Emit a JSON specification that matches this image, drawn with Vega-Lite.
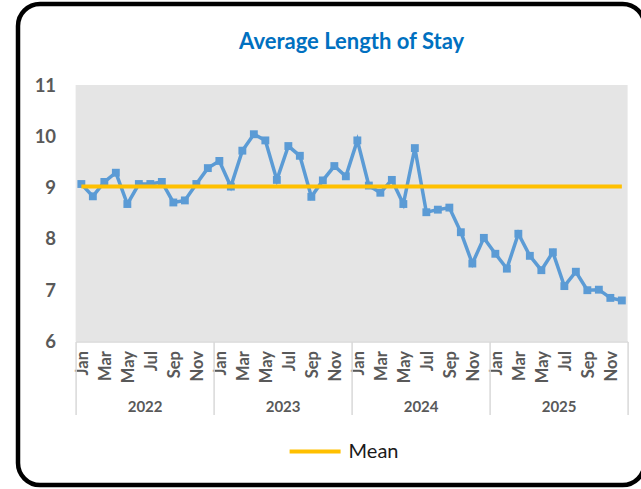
{
  "$schema": "https://vega.github.io/schema/vega-lite/v6.json",
  "autosize": {"type": "none"},
  "width": 552,
  "height": 256.5,
  "padding": {"left": 75.6, "top": 85, "right": 13.4, "bottom": 147.5},
  "background": "white",
  "title": {
    "text": "Average Length of Stay",
    "font": "Lato",
    "fontSize": 22,
    "fontWeight": "bold",
    "color": "#0070C0",
    "anchor": "middle",
    "offset": -52
  },
  "data": {
    "values": [
      {"idx": 0, "month": "Jan", "year": 2022, "los": 9.07, "mean": 9.02},
      {"idx": 1, "month": "Feb", "year": 2022, "los": 8.83, "mean": 9.02},
      {"idx": 2, "month": "Mar", "year": 2022, "los": 9.11, "mean": 9.02},
      {"idx": 3, "month": "Apr", "year": 2022, "los": 9.29, "mean": 9.02},
      {"idx": 4, "month": "May", "year": 2022, "los": 8.68, "mean": 9.02},
      {"idx": 5, "month": "Jun", "year": 2022, "los": 9.07, "mean": 9.02},
      {"idx": 6, "month": "Jul", "year": 2022, "los": 9.07, "mean": 9.02},
      {"idx": 7, "month": "Aug", "year": 2022, "los": 9.11, "mean": 9.02},
      {"idx": 8, "month": "Sep", "year": 2022, "los": 8.71, "mean": 9.02},
      {"idx": 9, "month": "Oct", "year": 2022, "los": 8.75, "mean": 9.02},
      {"idx": 10, "month": "Nov", "year": 2022, "los": 9.07, "mean": 9.02},
      {"idx": 11, "month": "Dec", "year": 2022, "los": 9.38, "mean": 9.02},
      {"idx": 12, "month": "Jan", "year": 2023, "los": 9.52, "mean": 9.02},
      {"idx": 13, "month": "Feb", "year": 2023, "los": 9.02, "mean": 9.02},
      {"idx": 14, "month": "Mar", "year": 2023, "los": 9.72, "mean": 9.02},
      {"idx": 15, "month": "Apr", "year": 2023, "los": 10.04, "mean": 9.02},
      {"idx": 16, "month": "May", "year": 2023, "los": 9.92, "mean": 9.02},
      {"idx": 17, "month": "Jun", "year": 2023, "los": 9.15, "mean": 9.02},
      {"idx": 18, "month": "Jul", "year": 2023, "los": 9.81, "mean": 9.02},
      {"idx": 19, "month": "Aug", "year": 2023, "los": 9.62, "mean": 9.02},
      {"idx": 20, "month": "Sep", "year": 2023, "los": 8.82, "mean": 9.02},
      {"idx": 21, "month": "Oct", "year": 2023, "los": 9.14, "mean": 9.02},
      {"idx": 22, "month": "Nov", "year": 2023, "los": 9.42, "mean": 9.02},
      {"idx": 23, "month": "Dec", "year": 2023, "los": 9.22, "mean": 9.02},
      {"idx": 24, "month": "Jan", "year": 2024, "los": 9.92, "mean": 9.02},
      {"idx": 25, "month": "Feb", "year": 2024, "los": 9.04, "mean": 9.02},
      {"idx": 26, "month": "Mar", "year": 2024, "los": 8.9, "mean": 9.02},
      {"idx": 27, "month": "Apr", "year": 2024, "los": 9.15, "mean": 9.02},
      {"idx": 28, "month": "May", "year": 2024, "los": 8.68, "mean": 9.02},
      {"idx": 29, "month": "Jun", "year": 2024, "los": 9.77, "mean": 9.02},
      {"idx": 30, "month": "Jul", "year": 2024, "los": 8.52, "mean": 9.02},
      {"idx": 31, "month": "Aug", "year": 2024, "los": 8.57, "mean": 9.02},
      {"idx": 32, "month": "Sep", "year": 2024, "los": 8.61, "mean": 9.02},
      {"idx": 33, "month": "Oct", "year": 2024, "los": 8.13, "mean": 9.02},
      {"idx": 34, "month": "Nov", "year": 2024, "los": 7.52, "mean": 9.02},
      {"idx": 35, "month": "Dec", "year": 2024, "los": 8.02, "mean": 9.02},
      {"idx": 36, "month": "Jan", "year": 2025, "los": 7.71, "mean": 9.02},
      {"idx": 37, "month": "Feb", "year": 2025, "los": 7.42, "mean": 9.02},
      {"idx": 38, "month": "Mar", "year": 2025, "los": 8.1, "mean": 9.02},
      {"idx": 39, "month": "Apr", "year": 2025, "los": 7.67, "mean": 9.02},
      {"idx": 40, "month": "May", "year": 2025, "los": 7.39, "mean": 9.02},
      {"idx": 41, "month": "Jun", "year": 2025, "los": 7.74, "mean": 9.02},
      {"idx": 42, "month": "Jul", "year": 2025, "los": 7.08, "mean": 9.02},
      {"idx": 43, "month": "Aug", "year": 2025, "los": 7.36, "mean": 9.02},
      {"idx": 44, "month": "Sep", "year": 2025, "los": 7.0, "mean": 9.02},
      {"idx": 45, "month": "Oct", "year": 2025, "los": 7.01, "mean": 9.02},
      {"idx": 46, "month": "Nov", "year": 2025, "los": 6.85, "mean": 9.02},
      {"idx": 47, "month": "Dec", "year": 2025, "los": 6.8, "mean": 9.02}
    ]
  },
  "layer": [
    {
      "mark": {
        "type": "line",
        "color": "#5B9BD5",
        "strokeWidth": 3.5,
        "point": {"shape": "square", "size": 62, "filled": true, "color": "#5B9BD5", "opacity": 1}
      },
      "encoding": {
        "x": {
          "field": "idx",
          "type": "quantitative",
          "scale": {"domain": [-0.5, 47.5], "nice": false, "zero": false},
          "axis": {
            "orient": "bottom",
            "values": [0, 2, 4, 6, 8, 10, 12, 14, 16, 18, 20, 22, 24, 26, 28, 30, 32, 34, 36, 38, 40, 42, 44, 46],
            "labelExpr": "['Jan','Feb','Mar','Apr','May','Jun','Jul','Aug','Sep','Oct','Nov','Dec'][datum.value % 12]",
            "labelAngle": -90,
            "labelAlign": "right",
            "labelBaseline": "middle",
            "labelPadding": 9,
            "labelOffset": 1,
            "ticks": false,
            "tickSize": 0,
            "domain": true,
            "domainColor": "#D9D9D9",
            "domainWidth": 1.5,
            "grid": false,
            "title": null,
            "labelFont": "Lato",
            "labelFontSize": 16.5,
            "labelFontWeight": "bold",
            "labelColor": "#595959",
            "labelOverlap": false,
            "labelFlush": false,
            "labelBound": false
          }
        },
        "y": {
          "field": "los",
          "type": "quantitative",
          "scale": {"domain": [6, 11], "nice": false, "zero": false},
          "axis": {
            "values": [6, 7, 8, 9, 10, 11],
            "ticks": false,
            "tickSize": 0,
            "domain": false,
            "grid": false,
            "labelPadding": 20,
            "labelFont": "Lato",
            "labelFontSize": 18.5,
            "labelFontWeight": "bold",
            "labelColor": "#595959",
            "title": null
          }
        }
      }
    },
    {
      "mark": {"type": "line", "strokeWidth": 4},
      "encoding": {
        "x": {
          "field": "idx",
          "type": "quantitative",
          "axis": {
            "orient": "bottom",
            "values": [-0.5, 5.5, 11.5, 17.5, 23.5, 29.5, 35.5, 41.5, 47.5],
            "labelExpr": "(datum.value + 0.5) % 12 == 6 ? '' + (2022 + floor(datum.value / 12)) : ''",
            "ticks": true,
            "tickSize": 73,
            "tickWidth": 1.5,
            "tickColor": {"condition": {"test": "(datum.value + 0.5) % 12 == 6", "value": "transparent"}, "value": "#D9D9D9"},
            "domain": false,
            "grid": false,
            "labelAngle": 0,
            "labelAlign": "center",
            "labelBaseline": "middle",
            "labelPadding": -8.5,
            "labelFont": "Lato",
            "labelFontSize": 15,
            "labelFontWeight": "bold",
            "labelColor": "#595959",
            "labelOverlap": false,
            "labelFlush": false,
            "labelBound": false,
            "title": null
          }
        },
        "y": {"field": "mean", "type": "quantitative"},
        "color": {
          "datum": "Mean",
          "scale": {"range": ["#FFC000"]},
          "legend": {
            "title": null,
            "orient": "none",
            "legendX": 212,
            "legendY": 339,
            "symbolType": "stroke",
            "symbolSize": 2600,
            "symbolStrokeWidth": 4,
            "labelFont": "Lato",
            "labelFontSize": 20,
            "labelColor": "#1a1a1a",
            "labelOffset": 6,
            "padding": 0
          }
        }
      }
    },
    {
      "data": {"values": [{"frame": "border"}]},
      "mark": {"type": "rect", "fill": "transparent", "stroke": "#000000", "strokeWidth": 4.5, "cornerRadius": 22, "clip": false},
      "encoding": {
        "x": {"value": -57.6},
        "x2": {"value": 569},
        "y": {"value": -81},
        "y2": {"value": 400}
      }
    }
  ],
  "resolve": {"axis": {"x": "independent"}},
  "config": {
    "font": "Lato",
    "view": {"stroke": null, "fill": "#E5E5E5"}
  }
}
